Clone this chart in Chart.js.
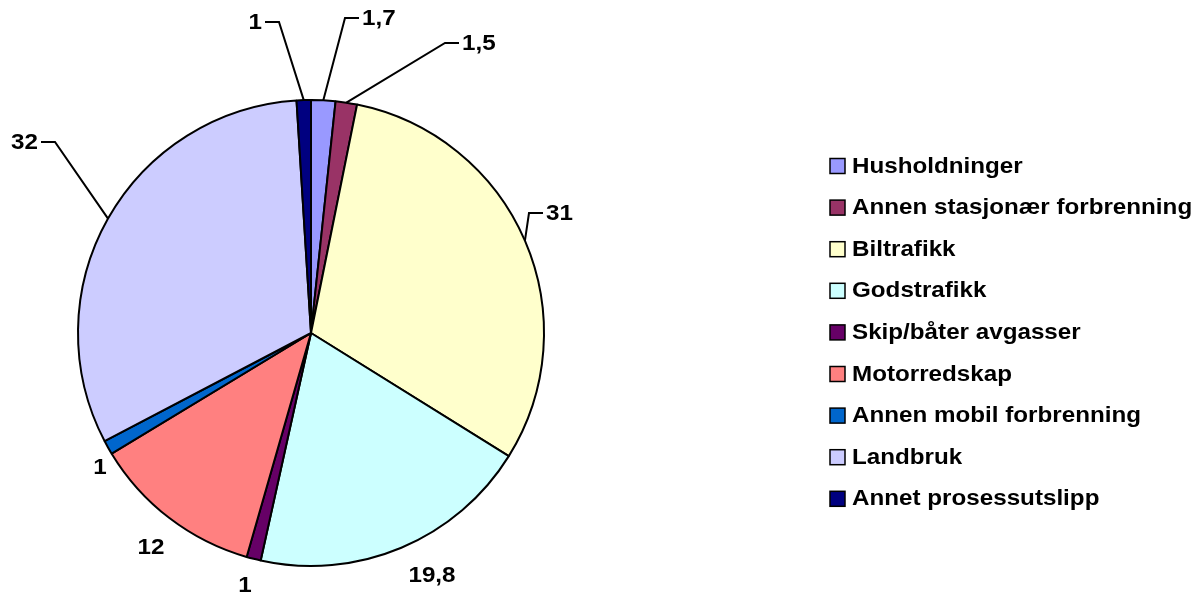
<!DOCTYPE html>
<html>
<head>
<meta charset="utf-8">
<script src="https://cdn.jsdelivr.net/npm/chart.js@4"></script>
<style>
  html, body { margin: 0; padding: 0; background: #fff; }
  #wrap { width: 1194px; height: 598px; position: relative; }
</style>
</head>
<body>
<div id="wrap"><canvas id="chartPie"></canvas></div>
<script>
// data
const kategorier = [
  'Husholdninger', 'Annen stasjonær forbrenning', 'Biltrafikk', 'Godstrafikk',
  'Skip/båter avgasser', 'Motorredskap', 'Annen mobil forbrenning', 'Landbruk',
  'Annet prosessutslipp'
];
const andel      = [1.7, 1.5, 31, 19.8, 1, 12, 1, 32, 1];
const etiketter  = ['1,7', '1,5', '31', '19,8', '1', '12', '1', '32', '1'];

const FARGER = [
  '#9999ff', '#993366', '#ffffcc', '#ccffff', '#660066',
  '#ff8080', '#0066cc', '#ccccff', '#000080'
];

// label placement relative to pie centre: [dx, dy, align, leader]
const LABEL_POS = [
  [51, -315, 'left', true],
  [151, -290, 'left', true],
  [235, -120, 'left', true],
  [121, 242, 'center', false],
  [-66, 252, 'center', false],
  [-160, 214, 'center', false],
  [-211, 134, 'center', false],
  [-273, -191, 'right', true],
  [-49, -311, 'right', true]
];

const FONT = 'bold 22px "Liberation Sans", Arial, sans-serif';
const STRETCH = 1.1;

// the original text is a bit wider than Arial, so stretch it sideways
function tekst(ctx, str, x, y, align) {
  const w = ctx.measureText(str).width * STRETCH;
  let left = x;
  if (align === 'center') left = x - w / 2;
  else if (align === 'right') left = x - w;
  ctx.save();
  ctx.translate(left, y);
  ctx.scale(STRETCH, 1);
  ctx.textAlign = 'left';
  ctx.fillText(str, 0, 0);
  ctx.restore();
}

const labelPlugin = {
  id: 'etiketter',
  afterDraw(chart) {
    const ctx = chart.ctx;
    const arcs = chart.getDatasetMeta(0).data;
    ctx.save();
    ctx.font = FONT;
    ctx.fillStyle = '#000';
    ctx.strokeStyle = '#000';
    ctx.textBaseline = 'middle';

    arcs.forEach((arc, i) => {
      const { x, y, startAngle, endAngle, outerRadius } = arc.getProps(['x', 'y', 'startAngle', 'endAngle', 'outerRadius'], true);
      const mid = (startAngle + endAngle) / 2;
      const [dx, dy, align, leader] = LABEL_POS[i];
      const tx = x + dx, ty = y + dy;
      tekst(ctx, etiketter[i], tx, ty + 1, align);
      if (!leader) return;
      const ex = x + Math.cos(mid) * outerRadius;
      const ey = y + Math.sin(mid) * outerRadius;
      const dir = align === 'left' ? -1 : 1;
      ctx.lineWidth = 2;
      ctx.beginPath();
      ctx.moveTo(ex, ey);
      ctx.lineTo(tx + dir * 17, ty);
      ctx.lineTo(tx + dir * 3, ty);
      ctx.stroke();
    });

    // legend
    const lx = 830, ly0 = 165.5, step = 41.6;
    kategorier.forEach((k, i) => {
      const yy = ly0 + i * step;
      ctx.fillStyle = FARGER[i];
      ctx.fillRect(lx, yy - 7, 15, 15);
      ctx.lineWidth = 1.5;
      ctx.strokeRect(lx, yy - 7, 15, 15);
      ctx.fillStyle = '#000';
      tekst(ctx, k, 852, yy + 1, 'left');
    });
    ctx.restore();
  }
};

new Chart(document.getElementById('chartPie'), {
  type: 'pie',
  data: {
    labels: kategorier,
    datasets: [{
      data: andel,
      backgroundColor: FARGER,
      borderColor: '#000',
      borderWidth: 2,
      borderAlign: 'center'
    }]
  },
  options: {
    responsive: true,
    maintainAspectRatio: false,
    animation: false,
    layout: { padding: { left: 77, top: 99, right: 649, bottom: 31 } },
    plugins: {
      legend: { display: false },
      tooltip: { enabled: false }
    }
  },
  plugins: [labelPlugin]
});
</script>
</body>
</html>
